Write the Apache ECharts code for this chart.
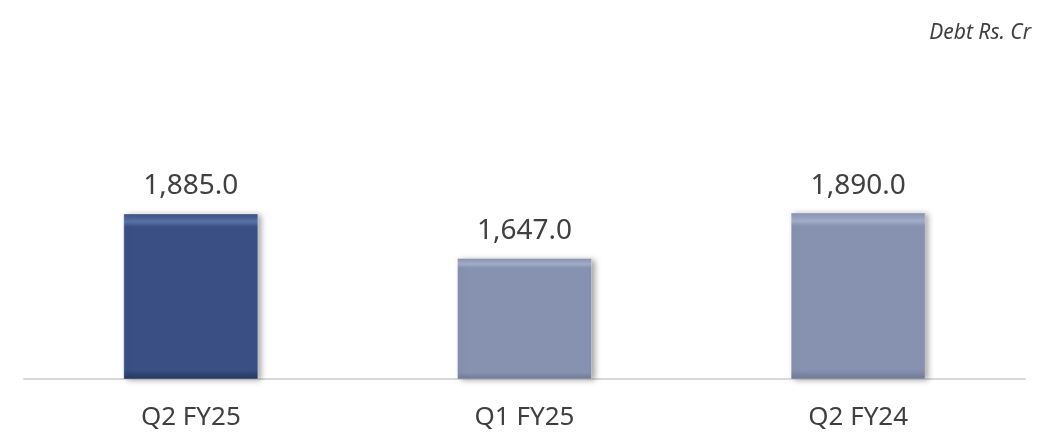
<!DOCTYPE html>
<html>
<head>
<meta charset="utf-8">
<script src="https://cdn.jsdelivr.net/npm/echarts@6/dist/echarts.min.js"></script>
<style>
  html, body { margin: 0; padding: 0; background: #fff; }
  #chart { width: 1061px; height: 436px; }
</style>
</head>
<body>
<div id="chart"></div>
<script>
// quarters and debt (Rs. Cr)
const quarters = ["Q2 FY25", "Q1 FY25", "Q2 FY24"];
const debt = [1885.0, 1647.0, 1890.0];
// [highlight, base, shade] for the bevel look
const barColors = [
  ["#5a71a6", "#3a5085", "#26375e"],
  ["#a3aecb", "#8792b0", "#6f7a96"],
  ["#a3aecb", "#8792b0", "#6f7a96"],
];

function fmt(v) {
  return v.toLocaleString("en-IN", { minimumFractionDigits: 1, maximumFractionDigits: 1 });
}

function bevel(c) {
  return new echarts.graphic.LinearGradient(0, 0, 0, 1, [
    { offset: 0, color: c[1] },
    { offset: 0.05, color: c[0] },
    { offset: 0.08, color: c[1] },
    { offset: 0.94, color: c[1] },
    { offset: 1, color: c[2] },
  ]);
}

const chart = echarts.init(document.getElementById("chart"));
chart.setOption({
  animation: false,
  textStyle: { fontFamily: "Noto Sans" },
  title: {
    text: "Debt Rs. Cr",
    right: 25,
    top: 18,
    textStyle: { fontSize: 21, fontStyle: "italic", fontWeight: "normal", color: "#404040" },
  },
  grid: { left: 24, right: 36, top: 192, bottom: 57 },
  xAxis: {
    type: "category",
    data: quarters,
    axisLine: { lineStyle: { color: "#d9d9d9", width: 2 } },
    axisTick: { show: false },
    axisLabel: { color: "#404040", fontSize: 26, margin: 26 },
  },
  yAxis: {
    type: "value",
    min: 1000,
    max: 2000,
    show: false,
    splitLine: { show: false },
  },
  series: [
    {
      type: "bar",
      barWidth: 135,
      data: debt.map((v, i) => ({
        value: v,
        itemStyle: {
          color: bevel(barColors[i]),
          borderColor: "rgba(255,255,255,0.3)",
          borderWidth: 1,
          shadowColor: "rgba(0,0,0,0.35)",
          shadowBlur: 6,
          shadowOffsetX: 3,
          shadowOffsetY: 1,
        },
      })),
      label: {
        show: true,
        position: "top",
        distance: 13,
        color: "#404040",
        fontSize: 28,
        formatter: (p) => fmt(p.value),
      },
    },
  ],
});
</script>
</body>
</html>
